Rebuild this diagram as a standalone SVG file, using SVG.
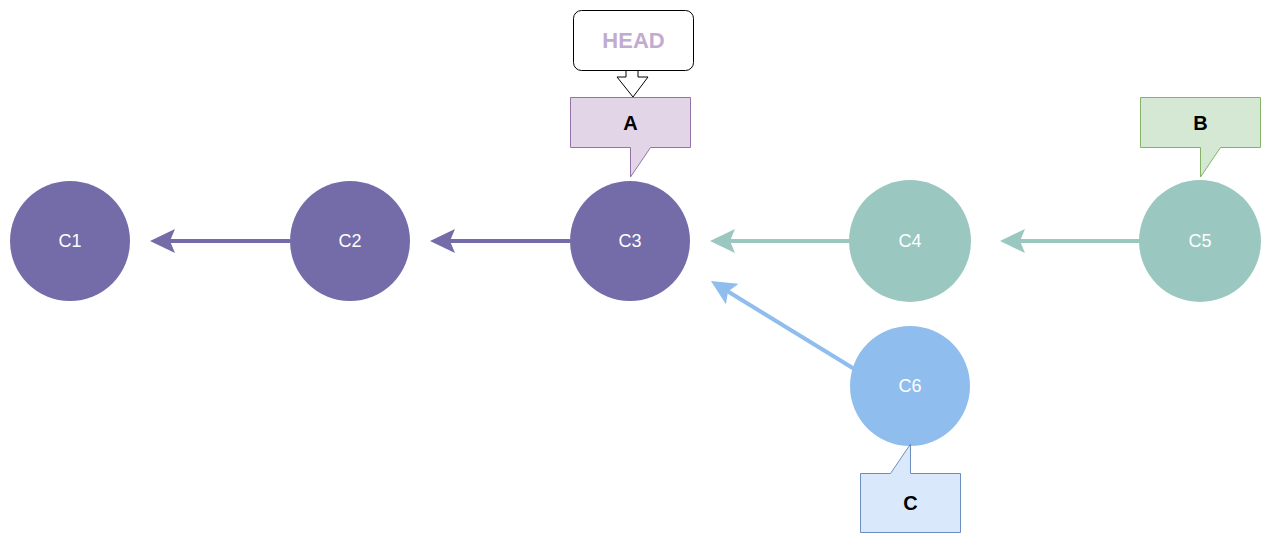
<svg xmlns="http://www.w3.org/2000/svg" width="1272" height="544" viewBox="0 0 1272 544">
<style>
.lbl{font-family:"Liberation Sans",Arial,sans-serif;font-size:18px;fill:#ffffff;text-anchor:middle;dominant-baseline:central}
.tag{font-family:"Liberation Sans",Arial,sans-serif;font-size:20px;font-weight:bold;fill:#000000;text-anchor:middle;dominant-baseline:central}
.edge{fill:none;stroke-width:4}
</style>
<defs>
<marker id="ap" markerUnits="userSpaceOnUse" markerWidth="26" markerHeight="24" viewBox="0 0 26 24" refX="5" refY="12" orient="auto"><path d="M25,12 L0,0 L5,12 L0,24 Z" fill="#736ca8"/></marker>
<marker id="at" markerUnits="userSpaceOnUse" markerWidth="26" markerHeight="24" viewBox="0 0 26 24" refX="5" refY="12" orient="auto"><path d="M25,12 L0,0 L5,12 L0,24 Z" fill="#9ac7bf"/></marker>
<marker id="ab" markerUnits="userSpaceOnUse" markerWidth="26" markerHeight="24" viewBox="0 0 26 24" refX="5" refY="12" orient="auto"><path d="M25,12 L0,0 L5,12 L0,24 Z" fill="#8fbdee"/></marker>
</defs>
<rect width="1272" height="544" fill="#ffffff"/>
<g id="connectors">
<line class="edge" x1="290" y1="241" x2="170" y2="241" stroke="#736ca8" marker-end="url(#ap)"/>
<line class="edge" x1="570" y1="241" x2="450" y2="241" stroke="#736ca8" marker-end="url(#ap)"/>
<line class="edge" x1="850" y1="241" x2="730" y2="241" stroke="#9ac7bf" marker-end="url(#at)"/>
<line class="edge" x1="1140" y1="241" x2="1020" y2="241" stroke="#9ac7bf" marker-end="url(#at)"/>
<line class="edge" x1="856" y1="370" x2="728" y2="291.5" stroke="#8fbdee" marker-end="url(#ab)"/>
<path d="M626,70 H638 V77 H648 L633,97 L617,77 H626 Z" fill="#ffffff" stroke="#000000" stroke-width="1"/>
</g>
<g id="C1"><circle cx="70" cy="241" r="60" fill="#736ca8"/><text class="lbl" x="70" y="241">C1</text></g>
<g id="C2"><circle cx="350" cy="241" r="60" fill="#736ca8"/><text class="lbl" x="350" y="241">C2</text></g>
<g id="C3"><circle cx="630" cy="241" r="60" fill="#736ca8"/><text class="lbl" x="630" y="241">C3</text></g>
<g id="C4"><circle cx="910" cy="241" r="61" fill="#9ac7bf"/><text class="lbl" x="910" y="241">C4</text></g>
<g id="C5"><circle cx="1200" cy="241" r="61" fill="#9ac7bf"/><text class="lbl" x="1200" y="241">C5</text></g>
<g id="C6"><circle cx="910" cy="386" r="60" fill="#8fbdee"/><text class="lbl" x="910" y="386">C6</text></g>
<g id="HEAD"><rect x="573.5" y="10.5" width="120" height="60" rx="8" fill="#ffffff" stroke="#000000"/><text x="633.5" y="40.5" font-family="Liberation Sans,Arial,sans-serif" font-size="22" font-weight="bold" fill="#c3abd0" text-anchor="middle" dominant-baseline="central">HEAD</text></g>
<g id="A"><path d="M570.5,97.5 H690.5 V147.5 H650.5 L630.5,177 V147.5 H570.5 Z" fill="#e1d5e7" stroke="#9673a6"/><text class="tag" x="630.5" y="122.5">A</text></g>
<g id="B"><path d="M1140.5,97.5 H1260.5 V147.5 H1220.5 L1200.5,177 V147.5 H1140.5 Z" fill="#d5e8d4" stroke="#82b366"/><text class="tag" x="1200.5" y="122.5">B</text></g>
<g id="C"><path d="M860.5,473.5 H890.5 L910.5,444 V473.5 H960.5 V532.5 H860.5 Z" fill="#dae8fc" stroke="#6c8ebf"/><text class="tag" x="910.5" y="503">C</text></g>
</svg>
